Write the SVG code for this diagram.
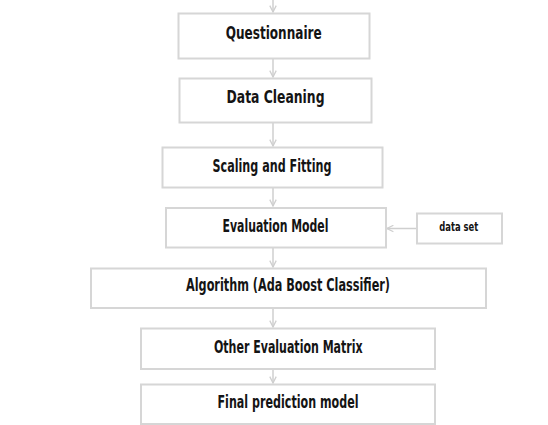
<svg xmlns="http://www.w3.org/2000/svg" width="548" height="425" viewBox="0 0 548 425">
<style>
.box{fill:#ffffff;stroke:#d6d6d6;stroke-width:2}
.lbl{font-family:"Liberation Sans Narrow","DejaVu Sans Condensed","Liberation Sans",sans-serif;font-weight:bold;font-size:18px;fill:#141414;text-anchor:middle}
.sm{font-size:11.5px}
.conn{stroke:#cfcfcf;stroke-width:1.5;fill:none;marker-end:url(#ah)}
</style>
<defs>
<marker id="ah" viewBox="0 0 10 10" refX="9" refY="5" markerWidth="8" markerHeight="8" markerUnits="userSpaceOnUse" orient="auto">
<path d="M1,1 L9,5 L1,9" fill="none" stroke="#cfcfcf" stroke-width="1.6"/>
</marker>
</defs>
<rect width="548" height="425" fill="#ffffff"/>
<g id="connectors">
<line class="conn" x1="273" y1="0" x2="273" y2="12"/>
<line class="conn" x1="273" y1="59" x2="273" y2="77"/>
<line class="conn" x1="273" y1="123" x2="273" y2="146"/>
<line class="conn" x1="273" y1="188" x2="273" y2="206"/>
<line class="conn" x1="273" y1="248" x2="273" y2="267"/>
<line class="conn" x1="273" y1="308" x2="273" y2="327"/>
<line class="conn" x1="273" y1="369" x2="273" y2="383"/>
<line class="conn" x1="416" y1="228.5" x2="387" y2="228.5"/>
</g>
<g id="questionnaire">
<rect class="box" x="178.5" y="13.5" width="191" height="45"/>
<text class="lbl" x="273.7" y="39" textLength="96" lengthAdjust="spacingAndGlyphs">Questionnaire</text>
</g>
<g id="data-cleaning">
<rect class="box" x="179.5" y="78.5" width="192" height="44"/>
<text class="lbl" x="275.5" y="103" textLength="98" lengthAdjust="spacingAndGlyphs">Data Cleaning</text>
</g>
<g id="scaling">
<rect class="box" x="162.5" y="147.5" width="220" height="40"/>
<text class="lbl" x="272" y="172" textLength="119" lengthAdjust="spacingAndGlyphs">Scaling and Fitting</text>
</g>
<g id="evaluation-model">
<rect class="box" x="166" y="208" width="220" height="39.5"/>
<text class="lbl" x="275.5" y="232" textLength="106" lengthAdjust="spacingAndGlyphs">Evaluation Model</text>
</g>
<g id="data-set">
<rect class="box" x="417" y="213.5" width="85" height="30"/>
<text class="lbl sm" x="458.8" y="231" textLength="39" lengthAdjust="spacingAndGlyphs">data set</text>
</g>
<g id="algorithm">
<rect class="box" x="91" y="268.5" width="395" height="39.5"/>
<text class="lbl" x="288" y="291" textLength="204" lengthAdjust="spacingAndGlyphs">Algorithm (Ada Boost Classifier)</text>
</g>
<g id="other-evaluation">
<rect class="box" x="141" y="328.5" width="294" height="40.5"/>
<text class="lbl" x="288.3" y="353" textLength="148.7" lengthAdjust="spacingAndGlyphs">Other Evaluation Matrix</text>
</g>
<g id="final-model">
<rect class="box" x="141" y="384.5" width="294" height="39.5"/>
<text class="lbl" x="288" y="407.5" textLength="141" lengthAdjust="spacingAndGlyphs">Final prediction model</text>
</g>
</svg>
